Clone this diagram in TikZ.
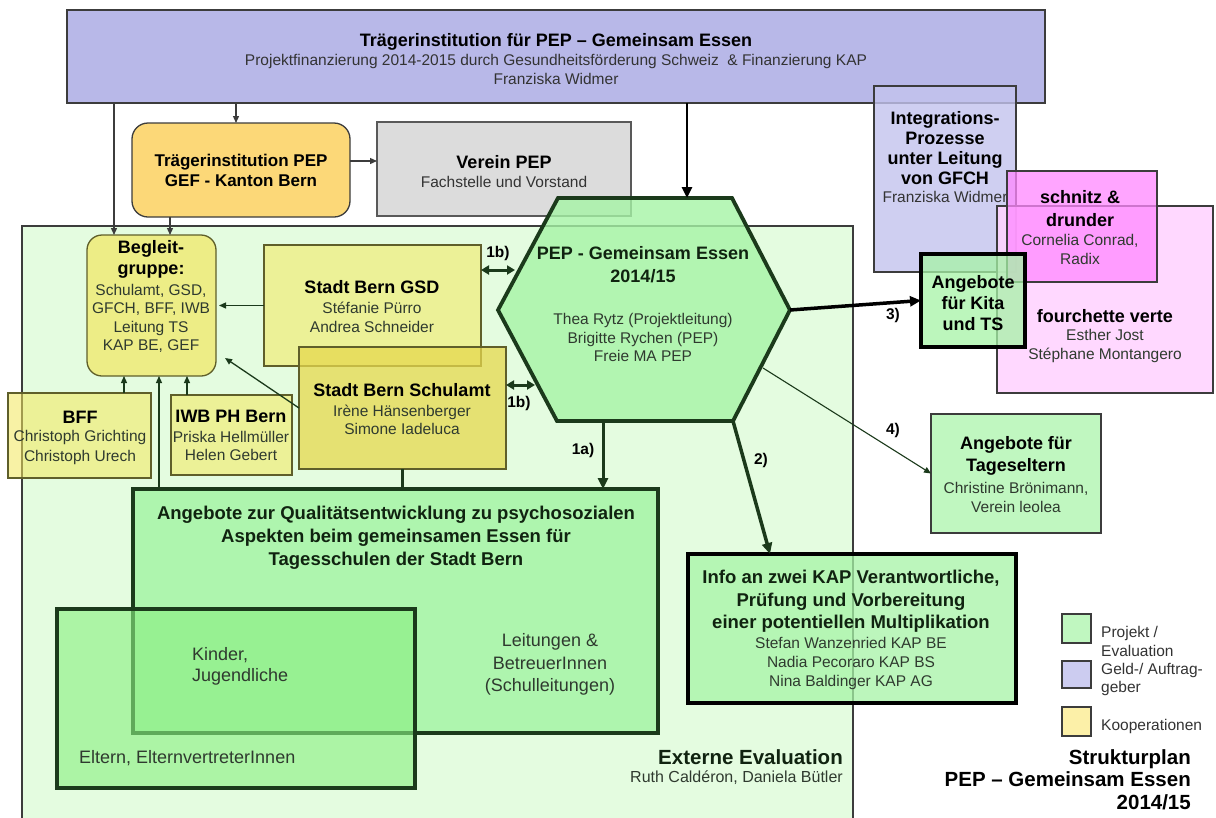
\documentclass[tikz,border=0pt]{standalone}
\usepackage{fontspec}
\setmainfont{Liberation Sans}
\usetikzlibrary{arrows.meta}
\definecolor{lav}{HTML}{B8B8E8}
\definecolor{lavlight}{HTML}{C4C4EE}
\definecolor{gefy}{HTML}{FCD878}
\definecolor{grayb}{HTML}{DCDCDC}
\definecolor{bggreen}{HTML}{E4FCE0}
\definecolor{begy}{HTML}{EDED86}
\definecolor{koop}{HTML}{F4E85C}
\definecolor{koopd}{HTML}{E6D84E}
\definecolor{hexg}{HTML}{A6F4A6}
\definecolor{angg}{HTML}{AEF5AE}
\definecolor{eltg}{HTML}{8AF081}
\definecolor{lgreen}{HTML}{C0F7C0}
\definecolor{magen}{HTML}{FF88FF}
\definecolor{pinkl}{HTML}{FFD2FF}
\definecolor{dkg}{HTML}{1B3A1B}
\definecolor{olive}{HTML}{5F5F2A}
\definecolor{txt}{HTML}{2F3A2F}
\definecolor{legy}{HTML}{FCF0A8}
\definecolor{legl}{HTML}{CCCCF0}
\definecolor{edge}{HTML}{3C3C3C}
\tikzset{
  bx/.style={rectangle, inner sep=0pt, outer sep=0pt, anchor=north west},
  tx/.style={inner sep=0pt, align=center, text=txt},
  hd/.style={inner sep=0pt, align=center, text=black},
  thinarr/.style={draw=#1, line width=1.3pt, -{Triangle[length=7pt,width=6pt]}},
  thickarr/.style={draw=#1, line width=3pt, -{Triangle[length=11pt,width=10pt]}},
  dblarr/.style={draw=dkg, line width=3pt, {Triangle[length=8pt,width=9pt]}-{Triangle[length=8pt,width=9pt]}},
  lab/.style={inner sep=0pt, text=black, font=\fontsize{15.5}{18}\selectfont\bfseries}
}
\begin{document}
\begin{tikzpicture}[x=1pt,y=-1pt]
\useasboundingbox (0,0) rectangle (1216,817);
\fill[white] (0,0) rectangle (1216,817);

% top box and GFCH
\node[bx, fill=lav, draw=edge, line width=1.3pt, minimum width=978pt, minimum height=93pt] (top) at (67,10) {};
\node[hd, font=\fontsize{18}{22}\selectfont\bfseries] (topT) at (556,42) {Trägerinstitution für PEP – Gemeinsam Essen};
\node[tx, text=black!80, font=\fontsize{15.5}{19}\selectfont] (topS) at (556,69) {Projektfinanzierung 2014-2015 durch Gesundheitsförderung Schweiz \ \& Finanzierung KAP\\Franziska Widmer};

\node[bx, fill=lavlight, fill opacity=0.8, draw=edge, line width=1.3pt, minimum width=142pt, minimum height=186pt] (integ) at (874,86) {};
\node[hd, font=\fontsize{18}{20}\selectfont\bfseries] (intT) at (945,148) {Integrations-\\Prozesse\\unter Leitung\\von GFCH};
\node[tx, text=black!80, font=\fontsize{15.5}{18}\selectfont] (intS) at (945,197) {Franziska Widmer};

% green background
\node[bx, fill=bggreen, draw=edge, line width=1.1pt, minimum width=831pt, minimum height=600pt] (ext) at (22,226) {};

% GEF and Verein
\node[bx, fill=gefy, draw=edge, line width=1.3pt, rounded corners=16pt, minimum width=218pt, minimum height=94pt] (gef) at (132,123) {};
\node[hd, font=\fontsize{17}{20}\selectfont\bfseries] (gefT) at (241,170) {Trägerinstitution PEP\\GEF - Kanton Bern};
\node[bx, fill=grayb, draw=gray!70!black, line width=1.3pt, minimum width=254pt, minimum height=94pt] (verein) at (377,122) {};
\node[hd, font=\fontsize{18}{22}\selectfont\bfseries] (vereinT) at (504,162) {Verein PEP};
\node[tx, text=black!80, font=\fontsize{15.5}{18}\selectfont] (vereinS) at (504,182) {Fachstelle und Vorstand};

% cooperation boxes
\node[bx, fill=begy, draw=olive, line width=1.3pt, rounded corners=15pt, minimum width=129pt, minimum height=141pt] (beg) at (87,235) {};
\node[hd, font=\fontsize{18}{21}\selectfont\bfseries] (begT) at (151,259.5) {Begleit-\\gruppe:};
\node[tx, font=\fontsize{15.5}{18.3}\selectfont] (begS) at (151,318.5) {Schulamt, GSD,\\GFCH, BFF, IWB\\Leitung TS\\KAP BE, GEF};

\node[bx, fill=koop, fill opacity=0.55, draw=olive, line width=1.3pt, minimum width=217pt, minimum height=121pt] (gsd) at (264,245) {};
\node[hd, font=\fontsize{18}{22}\selectfont\bfseries] (gsdT) at (372,287) {Stadt Bern GSD};
\node[tx, font=\fontsize{15.5}{19}\selectfont] (gsdS) at (372,317.5) {Stéfanie Pürro\\Andrea Schneider};

\node[bx, fill=koopd, fill opacity=0.75, draw=olive, line width=1.3pt, minimum width=207pt, minimum height=122pt] (schul) at (299,347) {};
\node[hd, font=\fontsize{18}{22}\selectfont\bfseries] (schulT) at (402,390) {Stadt Bern Schulamt};
\node[tx, font=\fontsize{15.5}{18}\selectfont] (schulS) at (402,420) {Irène Hänsenberger\\Simone Iadeluca};

\node[bx, fill=koop, fill opacity=0.55, draw=olive, line width=1.3pt, minimum width=143pt, minimum height=85pt] (bff) at (8,393) {};
\node[hd, font=\fontsize{18}{22}\selectfont\bfseries] (bffT) at (80,417) {BFF};
\node[tx, font=\fontsize{15.5}{20}\selectfont] (bffS) at (80,447) {Christoph Grichting\\Christoph Urech};

\node[bx, fill=koop, fill opacity=0.55, draw=olive, line width=1.3pt, minimum width=121pt, minimum height=80pt] (iwb) at (171,395) {};
\node[hd, font=\fontsize{18}{22}\selectfont\bfseries] (iwbT) at (231,416) {IWB PH Bern};
\node[tx, font=\fontsize{15.5}{18}\selectfont] (iwbS) at (231,446) {Priska Hellmüller\\Helen Gebert};

% hexagon
\coordinate (h1) at (558,198);
\coordinate (h2) at (732,198);
\coordinate (h3) at (790,310);
\coordinate (h4) at (733,421);
\coordinate (h5) at (557,421);
\coordinate (h6) at (498,310);
\filldraw[fill=hexg, fill opacity=0.8, draw=dkg, line width=3.8pt, line join=miter]
  (h1) -- (h2) -- (h3) -- (h4) -- (h5) -- (h6) -- cycle;
\node[hd, text=dkg!60!black, font=\fontsize{18}{23}\selectfont\bfseries] (hexT) at (643,264.5) {PEP - Gemeinsam Essen\\2014/15};
\node[tx, font=\fontsize{15.5}{18.5}\selectfont] (hexS) at (643,337.5) {Thea Rytz (Projektleitung)\\Brigitte Rychen (PEP)\\Freie MA PEP};

% Angebote and Eltern
\node[bx, fill=angg, draw=dkg, line width=3.5pt, minimum width=525pt, minimum height=244pt] (ang) at (133,489) {};
\node[hd, text=dkg!60!black, font=\fontsize{18.5}{23}\selectfont\bfseries] (angT) at (396,538) {Angebote zur Qualitätsentwicklung zu psychosozialen\\Aspekten beim gemeinsamen Essen für\\Tagesschulen der Stadt Bern};
\node[bx, fill=eltg, fill opacity=0.62, draw=dkg, line width=3.5pt, minimum width=358pt, minimum height=179pt] (elt) at (57,609) {};
\node[tx, align=left, anchor=west, font=\fontsize{18}{21}\selectfont] (kinT) at (192,666.5) {Kinder,\\Jugendliche};
\node[tx, font=\fontsize{18}{22.5}\selectfont] (leiT) at (550,664.5) {Leitungen \&\\BetreuerInnen\\(Schulleitungen)};
\node[tx, anchor=west, font=\fontsize{18}{22}\selectfont] (eltT) at (79,758) {Eltern, ElternvertreterInnen};
\node[hd, anchor=east, align=right, text=dkg!60!black, font=\fontsize{20.5}{22}\selectfont\bfseries] (extT) at (843,757) {Externe Evaluation};
\node[tx, anchor=east, align=right, font=\fontsize{16}{18}\selectfont] (extS) at (843,778) {Ruth Caldéron, Daniela Bütler};

% Info box
\node[bx, fill=hexg, fill opacity=0.75, draw=black, line width=4pt, minimum width=328pt, minimum height=149pt] (info) at (688,554) {};
\node[hd, text=dkg!60!black, font=\fontsize{18.5}{22.5}\selectfont\bfseries] (infoT) at (851,601.5) {Info an zwei KAP Verantwortliche,\\Prüfung und Vorbereitung\\einer potentiellen Multiplikation};
\node[tx, font=\fontsize{15.5}{19}\selectfont] (infoS) at (851,663) {Stefan Wanzenried KAP BE\\Nadia Pecoraro KAP BS\\Nina Baldinger KAP AG};

% Tageseltern
\node[bx, fill=lgreen, draw=edge, line width=1.3pt, minimum width=170pt, minimum height=119pt] (tag) at (931,414) {};
\node[hd, font=\fontsize{18}{22}\selectfont\bfseries] (tagT) at (1016,456) {Angebote für\\Tageseltern};
\node[tx, font=\fontsize{15.5}{19}\selectfont] (tagS) at (1016,497.5) {Christine Brönimann,\\Verein leolea};

% pink boxes and Kita
\node[bx, fill=pinkl, fill opacity=0.85, draw=edge, line width=1.3pt, minimum width=216pt, minimum height=187pt] (fou) at (997,206) {};
\node[bx, fill=magen, fill opacity=0.75, draw=edge, line width=1.3pt, minimum width=150pt, minimum height=111pt] (schn) at (1007,171) {};
\node[hd, font=\fontsize{18}{23}\selectfont\bfseries] (schnT) at (1080,208.5) {schnitz \&\\drunder};
\node[tx, font=\fontsize{15.5}{19}\selectfont] (schnS) at (1080,249.5) {Cornelia Conrad,\\Radix};
\node[hd, font=\fontsize{18}{22}\selectfont\bfseries] (fouT) at (1105,316) {fourchette verte};
\node[tx, font=\fontsize{15.5}{19}\selectfont] (fouS) at (1105,345.5) {Esther Jost\\Stéphane Montangero};
\node[bx, fill=hexg, fill opacity=0.75, draw=black, line width=4.5pt, minimum width=104pt, minimum height=93pt] (kita) at (921,254) {};
\node[hd, font=\fontsize{18}{21}\selectfont\bfseries] (kitaT) at (973,303) {Angebote\\für Kita\\und TS};

% connectors
\coordinate (xA) at (114,0);
\coordinate (xB) at (236,0);
\coordinate (xC) at (170,0);
\coordinate (xD) at (687,0);
\coordinate (yE) at (0,161);
\coordinate (xF) at (124,0);
\coordinate (xG) at (187,0);
\coordinate (xH) at (159,0);
\coordinate (hL1) at (515,270);
\coordinate (hL2) at (535,385);
\coordinate (hB1) at (603,421);
\coordinate (xI) at (770,0);
\coordinate (hR2) at (763,368);

\draw[thinarr=edge] (top.south -| xA) -- (beg.north -| xA);
\draw[thinarr=edge] (top.south -| xB) -- (gef.north -| xB);
\draw[thinarr=edge] (gef.south -| xC) -- (beg.north -| xC);
\draw[thinarr=edge] (gef.east |- yE) -- (verein.west |- yE);
\draw[thickarr=black, line width=2.6pt] (top.south -| xD) -- (h1 -| xD);
\draw[thinarr=dkg, shorten >=3pt] (gsd.west) -- (gsd.west -| beg.east);
\draw[thinarr=dkg] (schul.west) -- ([shift={(9,-18)}]beg.south east);
\draw[thinarr=dkg] (bff.north -| xF) -- (beg.south -| xF);
\draw[thinarr=dkg] (iwb.north -| xG) -- (beg.south -| xG);
\draw[thinarr=dkg] (ang.north -| xH) -- (beg.south -| xH);
\draw[draw=dkg, line width=2.5pt] (schul.south) -- (schul.south |- ang.north);
\draw[dblarr] (gsd.east |- hL1) -- (hL1);
\draw[dblarr] (schul.east |- hL2) -- (hL2);
\draw[thickarr=dkg] (hB1) -- (hB1 |- ang.north);
\draw[thickarr=dkg, line width=3.5pt] (h4) -- (info.north -| xI);
\draw[thickarr=black, line width=3.5pt] (h3) -- (kita.west);
\draw[thinarr=dkg, line width=1.1pt] (hR2) -- (tag.west);

\node[lab] (l1b) at (498,253) {1b)};
\node[lab] (l1b2) at (519,403) {1b)};
\node[lab] (l1a) at (583,450) {1a)};
\node[lab] (l2) at (761,460) {2)};
\node[lab] (l3) at (893,315) {3)};
\node[lab] (l4) at (893,430) {4)};

% legend
\node[bx, fill=lgreen, draw=edge, line width=1.3pt, minimum width=29pt, minimum height=29pt] (lg1) at (1062,614) {};
\node[bx, fill=legl, draw=edge, line width=1.3pt, minimum width=29pt, minimum height=27pt] (lg2) at (1062,661) {};
\node[bx, fill=legy, draw=edge, line width=1.3pt, minimum width=29pt, minimum height=29pt] (lg3) at (1062,707) {};
\node[tx, text=black!80, anchor=west, align=left, font=\fontsize{15.5}{19}\selectfont] (lgT1) at (1101,641.5) {Projekt /\\Evaluation};
\node[tx, text=black!80, anchor=west, align=left, font=\fontsize{15.5}{18}\selectfont] (lgT2) at (1101,679) {Geld-/ Auftrag-\\geber};
\node[tx, text=black!80, anchor=west, align=left, font=\fontsize{15.5}{18}\selectfont] (lgT3) at (1101,726) {Kooperationen};
\node[hd, anchor=east, align=right, font=\fontsize{20.5}{22.5}\selectfont\bfseries] (strT) at (1191,779.5) {Strukturplan\\PEP – Gemeinsam Essen\\2014/15};
\end{tikzpicture}
\end{document}
